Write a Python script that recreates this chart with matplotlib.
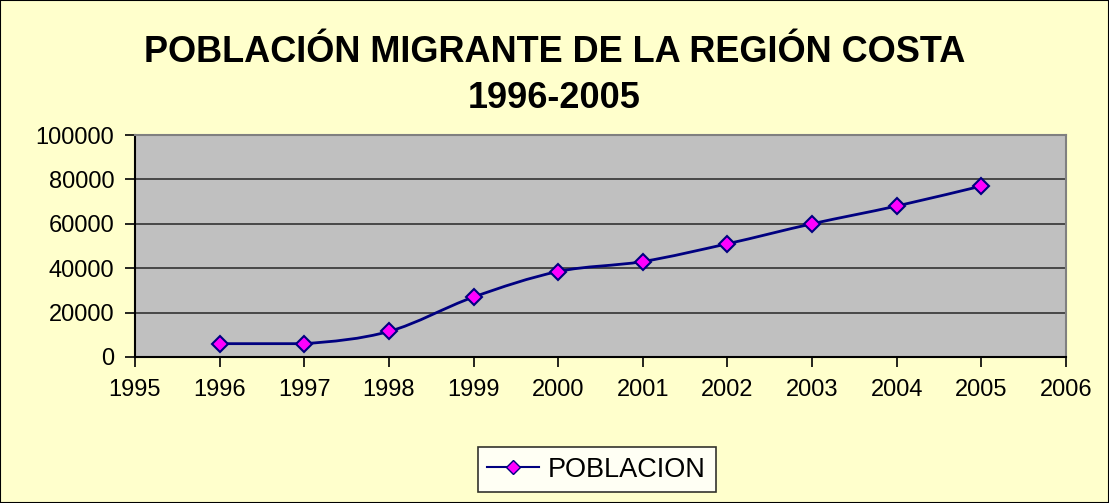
import matplotlib.pyplot as plt
from matplotlib.path import Path
from matplotlib.patches import PathPatch, Rectangle
from matplotlib.lines import Line2D

years = [1996, 1997, 1998, 1999, 2000, 2001, 2002, 2003, 2004, 2005]
poblacion = [6000, 6000, 11500, 27000, 38500, 43000, 51000, 60000, 68000, 77000]
y_ticks = [0, 20000, 40000, 60000, 80000, 100000]
x_ticks = list(range(1995, 2007))

plt.rcParams['font.family'] = ['Liberation Sans', 'DejaVu Sans']

fig = plt.figure(figsize=(11.09, 5.03), dpi=100)
fig.patch.set_facecolor('#FFFFCC')
fig.patches.append(Rectangle((0, 0), 1, 1, transform=fig.transFigure, fill=False,
                             edgecolor='black', linewidth=1.5, clip_on=False))

ax = fig.add_axes([0.1217, 0.2903, 0.8395, 0.4413])
ax.set_facecolor('#C0C0C0')

# smoothed line (Excel-style bezier through the points)
verts = [(years[0], poblacion[0])]
codes = [Path.MOVETO]
n = len(years)
for i in range(n - 1):
    x0, y0 = years[max(i - 1, 0)], poblacion[max(i - 1, 0)]
    x1, y1 = years[i], poblacion[i]
    x2, y2 = years[i + 1], poblacion[i + 1]
    x3, y3 = years[min(i + 2, n - 1)], poblacion[min(i + 2, n - 1)]
    c1 = (x1 + (x2 - x0) / 6, y1 + (y2 - y0) / 6)
    c2 = (x2 - (x3 - x1) / 6, y2 - (y3 - y1) / 6)
    if y1 == y2:
        # flat stretch stays flat
        c1 = (c1[0], y1)
        c2 = (c2[0], y2)
    verts += [c1, c2, (x2, y2)]
    codes += [Path.CURVE4] * 3
ax.add_patch(PathPatch(Path(verts, codes), facecolor='none', edgecolor='#000080',
                       linewidth=2, zorder=3))
ax.plot(years, poblacion, linestyle='none', marker='D', markersize=8,
        markerfacecolor='#FF00FF', markeredgecolor='#000080', markeredgewidth=1.5, zorder=4)

ax.set_xlim(1995, 2006)
ax.set_ylim(0, 100000)
ax.set_xticks(x_ticks)
ax.set_yticks(y_ticks)
ax.set_xticklabels([str(v) for v in x_ticks])
ax.set_yticklabels([str(v) for v in y_ticks])
ax.yaxis.grid(True, color='#333333', linewidth=1.2)
ax.set_axisbelow(True)
ax.tick_params(axis='both', direction='out', length=7, width=1.2, labelsize=17,
               color='black')
ax.tick_params(axis='y', pad=8)
ax.tick_params(axis='x', pad=9)

for side in ['top', 'right']:
    ax.spines[side].set_color('#808080')
    ax.spines[side].set_linewidth(1.5)
for side in ['left', 'bottom']:
    ax.spines[side].set_color('black')
    ax.spines[side].set_linewidth(1.5)

fig.text(0.5, 0.895, 'POBLACIÓN MIGRANTE DE LA REGIÓN COSTA', ha='center', va='center',
         fontsize=26, fontweight='bold')
fig.text(0.5, 0.805, '1996-2005', ha='center', va='center', fontsize=26, fontweight='bold')

handle = Line2D([], [], color='#000080', linewidth=1.5, marker='D', markersize=7,
                markerfacecolor='#FF00FF', markeredgecolor='#000080')
leg = fig.legend([handle], ['POBLACION'], loc='center', bbox_to_anchor=(0.538, 0.066),
                 fontsize=19.5, frameon=True, fancybox=False, edgecolor='black',
                 handlelength=1.9, handletextpad=0.35, borderpad=0.35, borderaxespad=0)
leg.get_frame().set_linewidth(1.2)
leg.get_frame().set_facecolor('white')

fig.savefig('out.png', dpi=100, facecolor=fig.get_facecolor())
